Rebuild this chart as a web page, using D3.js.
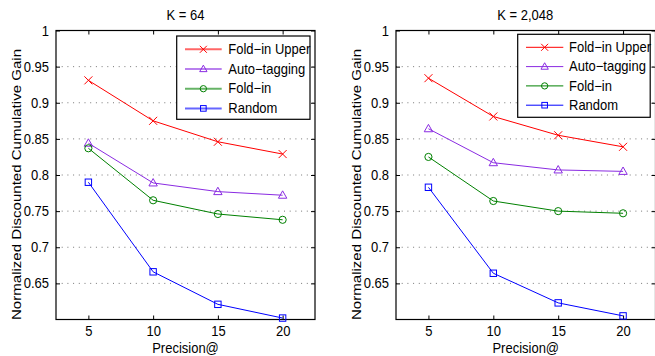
<!DOCTYPE html>
<html><head><meta charset="utf-8">
<script src="https://cdn.jsdelivr.net/npm/d3@7"></script>
<style>
html,body{margin:0;padding:0;background:#fff;}
text{font-family:"Liberation Sans",Arial,Helvetica,sans-serif;fill:#000;}
</style></head>
<body><svg id="c" width="655" height="356"></svg>
<script>
const precision = [5, 10, 15, 20];
const seriesNames = ["Fold-in Upper", "Auto-tagging", "Fold-in", "Random"];
const seriesColors = ["#ff0000", "#8a2be2", "#008000", "#0000ff"];
const seriesMarkers = ["x", "triangle", "circle", "square"];
const titles = ["K = 64", "K = 2,048"];
const yTicks = [0.65, 0.7, 0.75, 0.8, 0.85, 0.9, 0.95, 1];
const yTickLabels = ["0.65", "0.7", "0.75", "0.8", "0.85", "0.9", "0.95", "1"];
// K = 64
const k64FoldinUpper = [0.931, 0.875, 0.846, 0.829];
const k64AutoTagging = [0.844, 0.789, 0.777, 0.772];
const k64Foldin      = [0.837, 0.765, 0.746, 0.738];
const k64Random      = [0.790, 0.666, 0.621, 0.602];
// K = 2,048
const k2048FoldinUpper = [0.934, 0.881, 0.855, 0.839];
const k2048AutoTagging = [0.864, 0.817, 0.807, 0.805];
const k2048Foldin      = [0.825, 0.764, 0.750, 0.747];
const k2048Random      = [0.783, 0.664, 0.623, 0.605];

const panelsData = [
  [k64FoldinUpper, k64AutoTagging, k64Foldin, k64Random],
  [k2048FoldinUpper, k2048AutoTagging, k2048Foldin, k2048Random]
];

const svg = d3.select("#c");
const STRETCH = 1.1;
const panelLayout = [
  {x0: 56, x1: 315, ylab: 16, legend: {x: 176.7, y: 36, w: 133.3, h: 83.3, row0: 49.3, dy: 19.7, l0: 185, l1: 221.7, tx: 228.3, lw: 2, lo: 0.6}},
  {x0: 396, x1: 655.5, ylab: 356, legend: {x: 517.7, y: 34.3, w: 132.5, h: 83, row0: 47.3, dy: 19.3, l0: 526, l1: 563.3, tx: 569, lw: 1, lo: 1}}
];
const yTop = 30.5, yBot = 319.5;

function drawMarker(g, type, cx, cy, color, s) {
  if (type === "x") {
    g.append("path").attr("d", `M${cx-s},${cy-s}L${cx+s},${cy+s}M${cx-s},${cy+s}L${cx+s},${cy-s}`)
      .attr("stroke", color).attr("fill", "none").attr("stroke-width", 1);
  } else if (type === "triangle") {
    g.append("path").attr("d", `M${cx},${cy-s*1.1}L${cx+s*1.05},${cy+s*0.75}L${cx-s*1.05},${cy+s*0.75}Z`)
      .attr("stroke", color).attr("fill", "none").attr("stroke-width", 1);
  } else if (type === "circle") {
    g.append("circle").attr("cx", cx).attr("cy", cy).attr("r", s*0.9)
      .attr("stroke", color).attr("fill", "none").attr("stroke-width", 1);
  } else {
    const h = s*0.8;
    g.append("rect").attr("x", cx-h).attr("y", cy-h).attr("width", 2*h).attr("height", 2*h)
      .attr("stroke", color).attr("fill", "none").attr("stroke-width", 1);
  }
}

function hText(g, x, y, str, anchor, baseline) {
  const t = g.append("text").attr("transform", `translate(${x},${y}) scale(1,${STRETCH})`)
    .attr("text-anchor", anchor || "start").style("font-size", "13px").text(str);
  if (baseline) t.attr("dominant-baseline", baseline);
  return t;
}

panelsData.forEach((series, pi) => {
  const L = panelLayout[pi];
  const x = d3.scaleLinear().domain([2.5, 22.5]).range([L.x0, L.x1]);
  const y = d3.scaleLinear().domain([0.6, 1]).range([yBot, yTop]);
  const g = svg.append("g");

  // grid
  g.selectAll(".grid").data(yTicks.filter(t => t < 1)).enter().append("line")
    .attr("x1", L.x0).attr("x2", L.x1).attr("y1", d => y(d)).attr("y2", d => y(d))
    .attr("stroke", "#777").attr("stroke-width", 1).attr("stroke-dasharray", "1,4.7");

  // axes
  const ax = g.append("g").attr("transform", `translate(${L.x0},0)`)
    .call(d3.axisLeft(y).tickValues(yTicks).tickFormat((d, i) => yTickLabels[i]).tickSizeInner(-4).tickSizeOuter(0).tickPadding(7));
  const axR = g.append("g").attr("transform", `translate(${L.x1},0)`)
    .call(d3.axisRight(y).tickValues(yTicks).tickFormat("").tickSizeInner(-4).tickSizeOuter(0));
  const axB = g.append("g").attr("transform", `translate(0,${yBot})`)
    .call(d3.axisBottom(x).tickValues(precision).tickSizeInner(-4).tickSizeOuter(0).tickPadding(6));
  const axT = g.append("g").attr("transform", `translate(0,${yTop})`)
    .call(d3.axisTop(x).tickValues(precision).tickFormat("").tickSizeInner(-4).tickSizeOuter(0));
  [ax, axR, axB, axT].forEach(a => {
    a.select(".domain").remove();
    a.selectAll("line").attr("stroke", "#000");
    a.selectAll("text").style("font-size", "13px").attr("fill", "#000")
      .attr("transform", `scale(1,${STRETCH})`);
  });
  g.append("rect").attr("x", L.x0).attr("y", yTop).attr("width", L.x1 - L.x0).attr("height", yBot - yTop)
    .attr("fill", "none").attr("stroke", "#000").attr("stroke-width", 1.2);

  // lines and markers
  const line = d3.line().x((d, i) => x(precision[i])).y(d => y(d));
  series.forEach((vals, si) => {
    g.append("path").datum(vals).attr("d", line).attr("fill", "none")
      .attr("stroke", seriesColors[si]).attr("stroke-width", 1);
    vals.forEach((v, i) => drawMarker(g, seriesMarkers[si], x(precision[i]), y(v), seriesColors[si], 4));
  });

  // title
  hText(g, (L.x0 + L.x1) / 2 + (pi === 1 ? -0.5 : 0), 19.5, titles[pi], "middle");
  // x label
  hText(g, x(12.5), 353, "Precision@", "middle");
  // y label
  g.append("text").attr("transform", `translate(${L.ylab},${(49 + 320) / 2}) rotate(-90)`)
    .attr("text-anchor", "middle").attr("dominant-baseline", "central")
    .attr("textLength", 271).attr("lengthAdjust", "spacingAndGlyphs")
    .style("font-size", "13.5px").text("Normalized Discounted Cumulative Gain");

  // legend
  const lg = L.legend;
  g.append("rect").attr("x", lg.x).attr("y", lg.y).attr("width", lg.w).attr("height", lg.h)
    .attr("fill", "#fff").attr("stroke", "#000").attr("stroke-width", 1.2);
  seriesNames.forEach((name, si) => {
    const ry = lg.row0 + si * lg.dy;
    g.append("line").attr("x1", lg.l0).attr("x2", lg.l1).attr("y1", ry).attr("y2", ry)
      .attr("stroke", seriesColors[si]).attr("stroke-width", lg.lw).attr("stroke-opacity", lg.lo);
    drawMarker(g, seriesMarkers[si], (lg.l0 + lg.l1) / 2, ry, seriesColors[si], 3.5);
    hText(g, lg.tx, ry, name.replace(/-/g, "\u2212"), "start", "central");
  });
});
</script></body></html>
